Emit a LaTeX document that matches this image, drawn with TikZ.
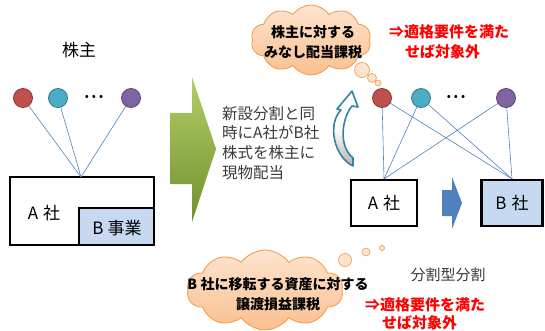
\documentclass[tikz,border=0pt]{standalone}
\usepackage{fontspec}
\setmainfont{Noto Sans CJK JP}
\usetikzlibrary{shapes.symbols}
\definecolor{linkblue}{HTML}{4F81BD}
\definecolor{pred}{HTML}{C0504D}
\definecolor{pteal}{HTML}{4BACC6}
\definecolor{ppurple}{HTML}{8064A2}
\definecolor{boxblue}{HTML}{C6D9F1}
\definecolor{cloudline}{HTML}{F79646}
\definecolor{cloudtop}{HTML}{FDE4CF}
\definecolor{cloudbot}{HTML}{FAC08F}
\definecolor{greentop}{HTML}{B2CF66}
\definecolor{greenbot}{HTML}{70902F}
\definecolor{curveteal}{HTML}{31849B}
\definecolor{txtgray}{HTML}{3A3A3A}
\definecolor{bluearrow}{HTML}{4F81BD}
\begin{document}
\begin{tikzpicture}[x=1pt,y=-1pt,
  person/.style={circle, minimum size=19pt, inner sep=0pt, line width=0.8pt},
  link/.style={draw=linkblue, line width=0.6pt},
  corp/.style={draw=black, line width=2.2pt, rectangle, inner sep=0pt},
  cloudbg/.style={cloud, cloud puffs=10, cloud puff arc=110, cloud ignores aspect, draw=cloudline, line width=0.8pt, top color=cloudtop, bottom color=cloudbot, inner sep=0pt},
  bubble/.style={circle, draw=cloudline, fill=cloudtop, inner sep=0pt, line width=0.6pt},
  redtxt/.style={text=red, font=\bfseries\fontsize{15}{19}\selectfont, anchor=west, inner sep=0pt},
  cloudtxt/.style={font=\bfseries\fontsize{14}{20}\selectfont, align=center, inner sep=0pt},
  dotrow/.style={font=\fontsize{12}{12}\selectfont, inner sep=0pt}
]
\useasboundingbox (0,0) rectangle (545,331);

% ---------- left side ----------
\node[font=\fontsize{17}{20}\selectfont] (kabunushi) at (79,50) {株主};
\node[person, fill=pred, draw=pred!70!black] (r1) at (23,98) {};
\node[person, fill=pteal, draw=pteal!70!black] (t1) at (58,98) {};
\node[dotrow] (d1) at (94,98) {\textbullet\hspace{3pt}\textbullet\hspace{3pt}\textbullet};
\node[person, fill=ppurple, draw=ppurple!70!black] (p1) at (131,98) {};

\node[corp, minimum width=144pt, minimum height=68pt] (A1) at (82,211) {};
\coordinate (a1top) at (81,177);
\draw[link] (r1) -- (a1top);
\draw[link] (t1) -- (a1top);
\draw[link] (p1) -- (a1top);
\node[corp, fill=boxblue, minimum width=75pt, minimum height=37pt] (B1) at (116.5,226.5) {};
\node[font=\fontsize{17}{20}\selectfont, inner sep=0pt] (A1txt) at (44,213) {A\hspace{0.3em}社};
\node[font=\fontsize{17}{20}\selectfont, inner sep=0pt] (B1txt) at (117,228) {B\hspace{0.25em}事業};

% ---------- green arrow ----------
\path[top color=greentop, bottom color=greenbot] (170,113) -- (192,113) -- (192,77) -- (216,149) -- (192,222) -- (192,184) -- (170,184) -- cycle;

% ---------- explanatory text ----------
\node[font=\fontsize{15.5}{19.8}\selectfont, text=txtgray, align=left, anchor=west, inner sep=0pt] (expl) at (222,143)
  {新設分割と同\\時にA社がB社\\株式を株主に\\現物配当};

% ---------- curved arrow ----------
\path[draw=curveteal, line width=1.6pt, top color=white, bottom color=black!30, middle color=white, line join=round]
  (353,166) .. controls (334,157) and (327,124) .. (341,110)
  -- (337,109) -- (352,91) -- (358,107) -- (352,106)
  .. controls (342,118) and (338,146) .. (353,158)
  -- cycle;

% ---------- right side ----------
\node[person, fill=pred, draw=pred!70!black] (r2) at (382,98) {};
\node[person, fill=pteal, draw=pteal!70!black] (t2) at (421,98) {};
\node[dotrow] (d2) at (456,98) {\textbullet\hspace{3pt}\textbullet\hspace{3pt}\textbullet};
\node[person, fill=ppurple, draw=ppurple!70!black] (p2) at (506,98) {};

\node[corp, fill=white, minimum width=66pt, minimum height=46pt, font=\fontsize{17}{20}\selectfont] (A2) at (384,203) {A\hspace{0.3em}社};
\node[corp, fill=boxblue, minimum width=61pt, minimum height=46pt, font=\fontsize{17}{20}\selectfont] (B2) at (512,203) {B\hspace{0.3em}社};

\draw[link] (r2) -- (A2.north);
\draw[link] (r2) -- (B2.north);
\draw[link] (t2) -- (A2.north);
\draw[link] (t2) -- (B2.north);
\draw[link] (p2) -- (A2.north);
\draw[link] (p2) -- (B2.north);

\path[fill=bluearrow] (442,190) -- (452,190) -- (452,177) -- (462,203) -- (452,229) -- (452,216) -- (442,216) -- cycle;

% ---------- top cloud ----------
\node[cloudbg, minimum width=120pt, minimum height=70pt] (cloud1) at (311,40) {};
\node[bubble, minimum size=15pt] (c1b1) at (362,70) {};
\node[bubble, minimum size=9pt] (c1b2) at (372,78) {};
\node[bubble, minimum size=6pt] (c1b3) at (378,83) {};
\node[cloudtxt] (cloud1txt) at (313,42) {株主に対する\\みなし配当課税};

\node[redtxt] (red1a) at (389,32) {⇒適格要件を満た};
\node[redtxt] (red1b) at (405,52) {せば対象外};

% ---------- bottom cloud ----------
\node[cloudbg, minimum width=156pt, minimum height=80pt] (cloud2) at (265,290) {};
\node[bubble, minimum size=13pt] (c2b1) at (345,260) {};
\node[bubble, minimum size=8pt] (c2b2) at (366,252) {};
\node[bubble, minimum size=5pt] (c2b3) at (382,248) {};
\node[cloudtxt] (cloud2txt) at (278,294) {B\hspace{0.25em}社に移転する資産に対する\\譲渡損益課税};

\node[font=\fontsize{15}{18}\selectfont, text=txtgray, inner sep=0pt] (bunkatsu) at (448,275) {分割型分割};
\node[redtxt] (red2a) at (365,305) {⇒適格要件を満た};
\node[redtxt] (red2b) at (382,323) {せば対象外};
\end{tikzpicture}
\end{document}
